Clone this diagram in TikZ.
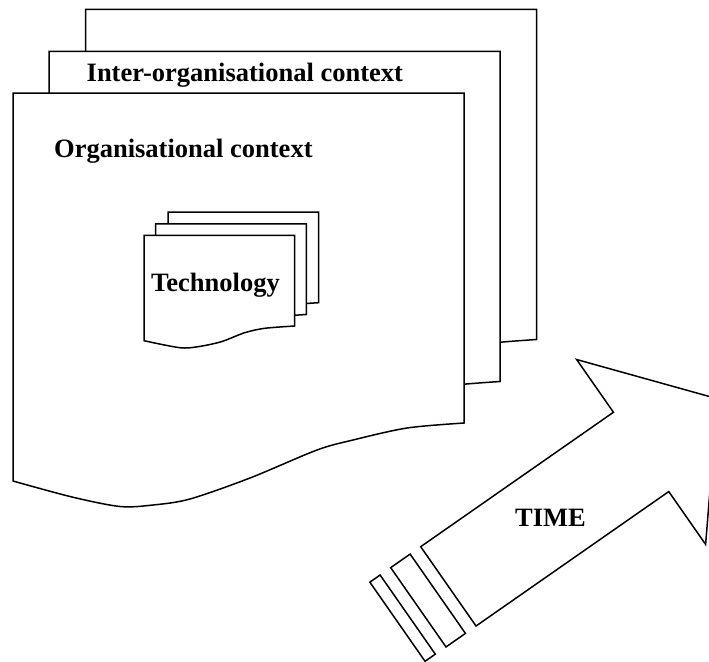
\documentclass[tikz,border=0pt]{standalone}
\usepackage{fontspec}
\setmainfont{Liberation Serif}
\begin{document}
\begin{tikzpicture}[x=1pt,y=-1pt,
  outline/.style={draw=black, line width=1.5pt, fill=white},
  caption/.style={font=\fontsize{26.5}{30}\selectfont\bfseries, inner sep=0pt, anchor=base west},
  contextpage/.pic={
    \draw[outline] (13,93) -- (464,93) -- (464,423)
      -- plot[smooth, tension=0.5] coordinates {(464,423) (407,428) (353,440) (317,450)
         (250,478) (190,499) (153,505) (120,506.5) (72,497) (13,481)} -- cycle;
  },
  techpage/.pic={
    \draw[outline] (144,235.3) -- (294.7,235.3) -- (294.7,326)
      -- plot[smooth, tension=0.5] coordinates {(294.7,326) (264.7,328.3) (244.7,332.7)
         (221.3,341.7) (198,346.7) (179.7,347.7) (144,340.7)} -- cycle;
  }]
\useasboundingbox (0,0) rectangle (709,661);
\clip (0,0) rectangle (709,661);

% stacked context pages, back to front
\pic (ctxback) at (72.5,-83.5) {contextpage};
\pic (ctxmid) at (36,-41.5) {contextpage};
\pic (ctxfront) at (0,0) {contextpage};

% stacked technology pages, back to front
\pic (techback) at (24,-23.3) {techpage};
\pic (techmid) at (11.7,-11.5) {techpage};
\pic (techfront) at (0,0) {techpage};

\node[caption] (inter) at (86.5,81.7) {Inter-organisational context};
\node[caption] (org) at (54,157.3) {Organisational context};
\node[caption] (tech) at (151,291.7) {Technology};

% time arrow with its two tail bands
\begin{scope}[shift={(420.7,546.7)}, rotate=34.9]
  \draw[outline] (0,0) -- (235,0) -- (235,-64.3) -- (328,48.4) -- (235,161.1)
    -- (235,96.7) -- (0,96.7) -- cycle;
  \draw[outline] (-36.6,0) rectangle (-12.9,96.7);
  \draw[outline] (-62,0) rectangle (-49.5,96.5);
\end{scope}
\node[caption] (time) at (515,526.7) {TIME};
\end{tikzpicture}
\end{document}
